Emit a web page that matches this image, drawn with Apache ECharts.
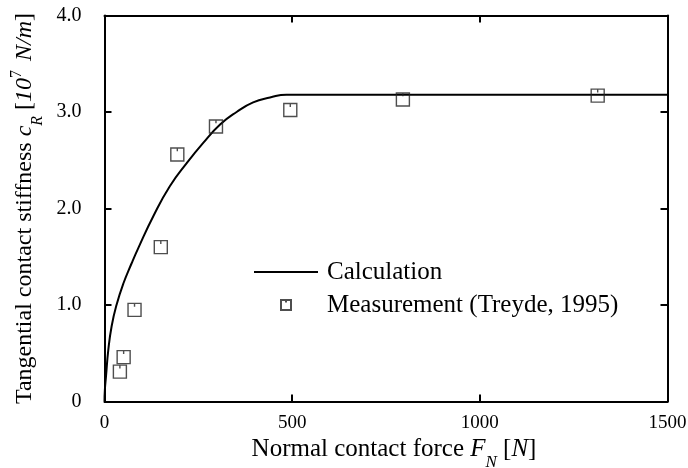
<!DOCTYPE html>
<html>
<head>
<meta charset="utf-8">
<script src="https://cdn.jsdelivr.net/npm/echarts@6/dist/echarts.min.js"></script>
<style>
  html, body { margin: 0; padding: 0; background: #fff; }
  #chart { width: 688px; height: 468px; }
</style>
</head>
<body>
<div id="chart"></div>
<script>
// Calculated tangential contact stiffness vs. normal force
const calcForce = [0, 1, 4, 10, 19, 32, 50, 72, 90, 130, 174, 219, 263, 308, 352, 396, 441, 485, 1500];
const calcStiffness = [0, 0.12, 0.26, 0.53, 0.78, 1.00, 1.22, 1.43, 1.59, 1.92, 2.23, 2.47, 2.68, 2.87, 3.00, 3.10, 3.15, 3.18, 3.18];

// Measured values (Treyde, 1995)
const measForce = [41, 51, 80, 150, 194, 297, 495, 795, 1314];
const measStiffness = [0.31, 0.46, 0.95, 1.60, 2.56, 2.85, 3.02, 3.13, 3.17];

const xTicks = [0, 500, 1000, 1500];
const yTicks = [0, 1.0, 2.0, 3.0, 4.0];

const FONT = 'Liberation Serif';
const calcPairs = calcForce.map((f, i) => [f, calcStiffness[i]]);
const measPairs = measForce.map((f, i) => [f, measStiffness[i]]);

// open square with a short stub at the top centre
const markerPath = 'path://M0,0L10,0L10,10L0,10Z M5,0L5,2.6';

function richFor(size) {
  const small = Math.round(size * 0.68);
  return {
    i: { fontFamily: FONT, fontSize: size, fontStyle: 'italic', color: '#000', lineHeight: size + 3 },
    sub: { fontFamily: FONT, fontSize: small, fontStyle: 'italic', color: '#000', lineHeight: small, verticalAlign: 'bottom', padding: [0, 0, -7, 0] },
    sup: { fontFamily: FONT, fontSize: small, color: '#000', lineHeight: small, verticalAlign: 'top', padding: [-3, 3, 0, 0] }
  };
}

const xMin = xTicks[0], xMax = xTicks[xTicks.length - 1];
const xStep = xTicks[1] - xTicks[0];
const yMin = yTicks[0], yMax = yTicks[yTicks.length - 1];
const yStep = yTicks[1] - yTicks[0];

const tickStyle = { show: true, inside: true, length: 7, lineStyle: { color: '#000', width: 2 } };
const lineStyle = { show: true, onZero: false, lineStyle: { color: '#000', width: 2 } };

const chart = echarts.init(document.getElementById('chart'));
chart.setOption({
  animation: false,
  backgroundColor: '#fff',
  grid: { left: 104.5, right: 20.5, top: 15.5, bottom: 66.5, containLabel: false, outerBoundsMode: 'none' },
  legend: {
    orient: 'vertical',
    left: 253,
    top: 259,
    padding: 0,
    itemWidth: 64,
    itemHeight: 10,
    itemGap: 7,
    textStyle: { fontFamily: FONT, fontSize: 25, lineHeight: 26, color: '#000', padding: [0, 0, 0, 4] },
    data: [
      { name: 'Calculation', itemStyle: { opacity: 0 } },
      { name: 'Measurement (Treyde, 1995)' }
    ]
  },
  xAxis: [
    {
      type: 'value', position: 'bottom', min: xMin, max: xMax, interval: xStep,
      axisLine: lineStyle, axisTick: tickStyle, splitLine: { show: false },
      axisLabel: { fontFamily: FONT, fontSize: 19, color: '#000', margin: 12, formatter: v => String(v) },
      name: 'Normal contact force {i|F}{sub|N} [{i|N}]',
      nameLocation: 'middle', nameGap: 22,
      nameTextStyle: { fontFamily: FONT, fontSize: 25, color: '#000', rich: richFor(25), padding: [0, 0, 0, 16] }
    },
    {
      type: 'value', position: 'top', min: xMin, max: xMax, interval: xStep,
      axisLine: lineStyle, axisTick: tickStyle, splitLine: { show: false },
      axisLabel: { show: false }
    }
  ],
  yAxis: [
    {
      type: 'value', position: 'left', min: yMin, max: yMax, interval: yStep,
      axisLine: lineStyle, axisTick: tickStyle, splitLine: { show: false },
      axisLabel: {
        fontFamily: FONT, fontSize: 20, color: '#000', margin: 23,
        formatter: v => (v === 0 ? '0' : v.toFixed(1))
      },
      name: 'Tangential contact stiffness {i|c}{sub|R} [{i|10}{sup|7} {i|N/m}]',
      nameLocation: 'middle', nameGap: 55, nameRotate: 90,
      nameTextStyle: { fontFamily: FONT, fontSize: 24, color: '#000', rich: richFor(24) }
    },
    {
      type: 'value', position: 'right', min: yMin, max: yMax, interval: yStep,
      axisLine: lineStyle, axisTick: tickStyle, splitLine: { show: false },
      axisLabel: { show: false }
    }
  ],
  series: [
    {
      name: 'Calculation',
      type: 'line',
      data: calcPairs,
      smooth: 0.5,
      symbol: 'none',
      lineStyle: { color: '#000', width: 2 },
      itemStyle: { color: '#000' },
      z: 3
    },
    {
      name: 'Measurement (Treyde, 1995)',
      type: 'scatter',
      data: measPairs,
      symbol: markerPath,
      symbolSize: 13,
      itemStyle: { color: 'rgba(0,0,0,0)', borderColor: '#222', borderWidth: 1.4 },
      z: 4
    }
  ]
});
</script>
</body>
</html>
